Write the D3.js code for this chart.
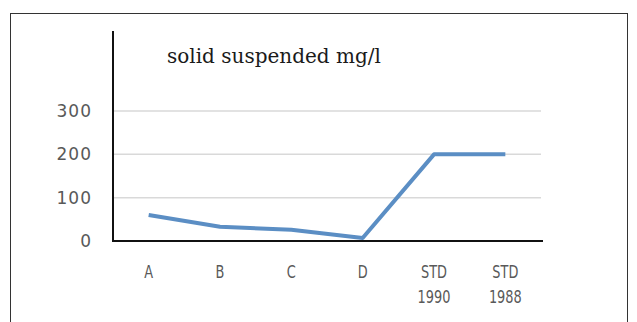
<!DOCTYPE html>
<html>
<head>
<meta charset="utf-8">
<script src="https://cdn.jsdelivr.net/npm/d3@7"></script>
<style>
  body { margin: 0; background: #fff; }
</style>
</head>
<body>
<svg id="chart" width="637" height="322"></svg>
<script>
const categories = ["A", "B", "C", "D", "STD 1990", "STD 1988"];
const values = [60, 33, 26, 7, 200, 200];
const yTicks = [0, 100, 200, 300];
const title = "solid suspended mg/l";

const svg = d3.select('#chart');

// frame around the picture
svg.append('rect')
    .attr('x', 10.5).attr('y', 13.5)
    .attr('width', 617).attr('height', 320)
    .attr('fill', 'none')
    .attr('stroke', '#333')
    .attr('stroke-width', 1);

const x = d3.scaleBand().domain(categories).range([113, 541]);
const y = d3.scaleLinear().domain([0, 300]).range([241, 111]);

// gridlines
svg.append('g')
  .selectAll('line')
  .data(yTicks.filter(d => d > 0))
  .enter().append('line')
    .attr('x1', 113).attr('x2', 541)
    .attr('y1', d => y(d)).attr('y2', d => y(d))
    .attr('stroke', '#d9d9d9')
    .attr('stroke-width', 1.5);

// y tick labels
const yAxis = svg.append('g')
    .attr('transform', 'translate(113,0)')
    .call(d3.axisLeft(y).tickValues(yTicks).tickSize(0).tickPadding(21));
yAxis.select('.domain').remove();
yAxis.selectAll('text')
    .attr('fill', '#595959')
    .style('font-family', 'DejaVu Sans, sans-serif')
    .style('font-size', '17px')
    .style('letter-spacing', '1px');

// y axis line
svg.append('line')
    .attr('x1', 113).attr('x2', 113)
    .attr('y1', 31).attr('y2', 242)
    .attr('stroke', '#111').attr('stroke-width', 2);

// x axis
const xAxis = svg.append('g')
    .attr('transform', 'translate(0,241)')
    .call(d3.axisBottom(x).tickSize(0).tickPadding(0));
xAxis.select('.domain').remove();
xAxis.selectAll('text').remove();
xAxis.selectAll('.tick').each(function(d) {
  const parts = d.split(' ');
  const t = d3.select(this).append('text')
      .attr('fill', '#595959')
      .attr('text-anchor', 'middle')
      .attr('transform', 'scale(0.76,1)')
      .style('font-family', 'DejaVu Sans, sans-serif')
      .style('font-size', '17px');
  parts.forEach((p, i) => {
    t.append('tspan').attr('x', 0).attr('y', 37 + i * 25).text(p);
  });
});

svg.append('line')
    .attr('x1', 112).attr('x2', 543)
    .attr('y1', y(0)).attr('y2', y(0))
    .attr('stroke', '#111').attr('stroke-width', 2);

// series line
const line = d3.line()
    .x((d, i) => x(categories[i]) + x.bandwidth() / 2)
    .y(d => y(d));

svg.append('path')
    .datum(values)
    .attr('d', line)
    .attr('fill', 'none')
    .attr('stroke', '#5b8ec4')
    .attr('stroke-width', 4)
    .attr('stroke-linejoin', 'round');

// title
svg.append('text')
    .attr('x', 167).attr('y', 63)
    .attr('fill', '#1a1a1a')
    .style('font-family', 'DejaVu Serif, serif')
    .style('font-size', '20px')
    .text(title);
</script>
</body>
</html>
